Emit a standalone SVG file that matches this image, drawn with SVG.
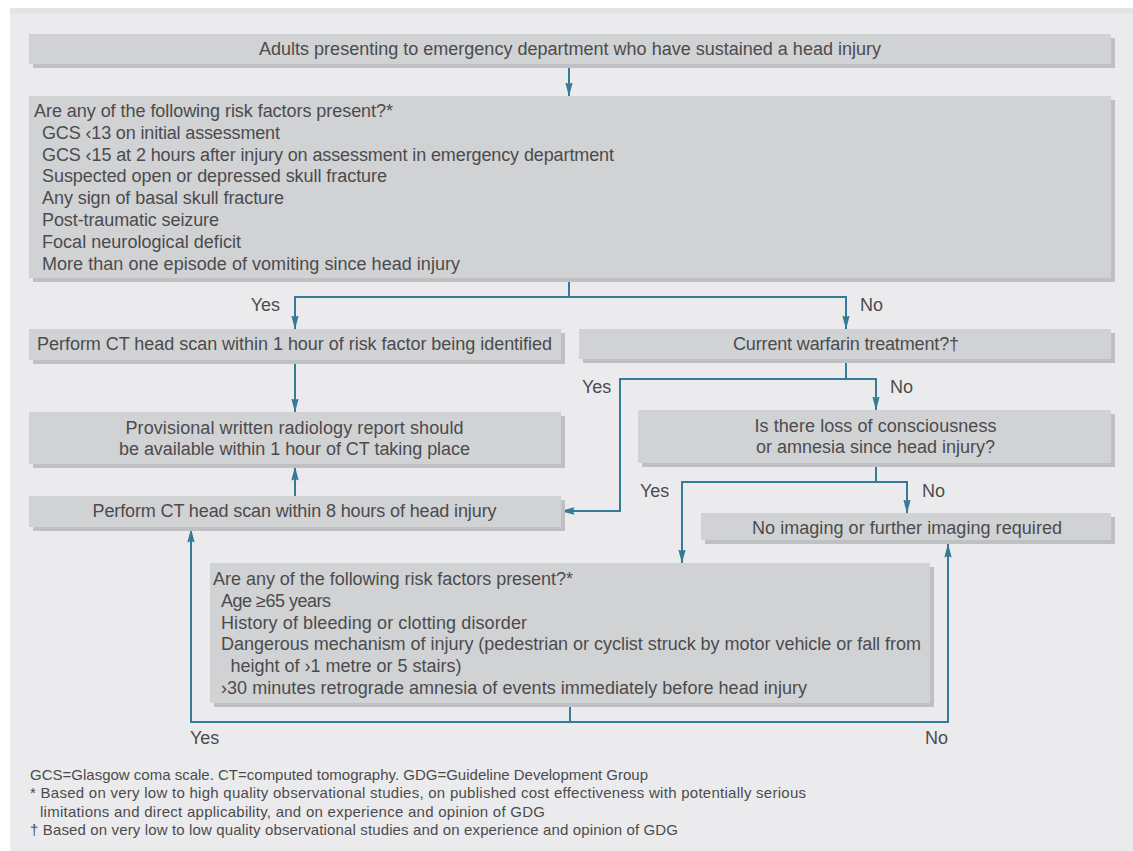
<svg xmlns="http://www.w3.org/2000/svg" width="1133" height="851" viewBox="0 0 1133 851">
<style>
.box{fill:#d1d2d4}
.sh{fill:#bfc0c2}
.t{font-family:"Liberation Sans",Arial,sans-serif;font-size:18px;fill:#4b4b4d}
.m{text-anchor:middle}
.e{text-anchor:end}
.f{font-family:"Liberation Sans",Arial,sans-serif;font-size:15px;fill:#4b4b4d}
.c{fill:none;stroke:#357a96;stroke-width:2}
</style>
<defs>
<marker id="ah" viewBox="0 0 14 8" refX="13.5" refY="4" markerWidth="14" markerHeight="8" markerUnits="userSpaceOnUse" orient="auto">
<path d="M0,0.3 L14,4 L0,7.7 L1.5,4 Z" fill="#357a96"/>
</marker>
</defs>
<rect x="0" y="0" width="1133" height="851" fill="#ffffff"/>
<rect x="10" y="8" width="1123" height="843" fill="#ebebed"/>
<rect x="10" y="8" width="1123" height="6" fill="#e4e4e6"/>

<g id="connectors">
<path class="c" d="M569,64 V96" marker-end="url(#ah)"/>
<path class="c" d="M569,278 V297"/>
<path class="c" d="M846,329 V297 H295 V329" marker-end="url(#ah)"/>
<path class="c" d="M846,297 V329" marker-end="url(#ah)"/>
<path class="c" d="M295,360 V412" marker-end="url(#ah)"/>
<path class="c" d="M295,496 V467" marker-end="url(#ah)"/>
<path class="c" d="M846,359 V379 H876 V410" marker-end="url(#ah)"/>
<path class="c" d="M846,379 H620 V511 H561" marker-end="url(#ah)"/>
<path class="c" d="M876,463 V482 H907 V513" marker-end="url(#ah)"/>
<path class="c" d="M876,482 H682 V563" marker-end="url(#ah)"/>
<path class="c" d="M570,703 V722 H191 V529" marker-end="url(#ah)"/>
<path class="c" d="M570,722 H948 V544" marker-end="url(#ah)"/>
<text class="t e" x="280" y="311">Yes</text>
<text class="t" x="860" y="311">No</text>
<text class="t" x="582" y="393">Yes</text>
<text class="t" x="890" y="393">No</text>
<text class="t" x="640" y="497">Yes</text>
<text class="t" x="922" y="497">No</text>
<text class="t" x="190" y="744">Yes</text>
<text class="t e" x="948" y="744">No</text>
</g>

<g id="n1">
<rect class="sh" x="33" y="38" width="1082" height="30"/>
<rect class="box" x="29" y="34" width="1082" height="30"/>
<text class="t m" x="570" y="55" textLength="622">Adults presenting to emergency department who have sustained a head injury</text>
</g>

<g id="n2">
<rect class="sh" x="33" y="100" width="1082" height="182"/>
<rect class="box" x="29" y="96" width="1082" height="182"/>
<text class="t" x="34" y="117" textLength="359">Are any of the following risk factors present?*</text>
<text class="t" x="42" y="139" textLength="238">GCS ‹13 on initial assessment</text>
<text class="t" x="42" y="160.6" textLength="572">GCS ‹15 at 2 hours after injury on assessment in emergency department</text>
<text class="t" x="42" y="182.4" textLength="345">Suspected open or depressed skull fracture</text>
<text class="t" x="42" y="204.2" textLength="242">Any sign of basal skull fracture</text>
<text class="t" x="42" y="226" textLength="177">Post-traumatic seizure</text>
<text class="t" x="42" y="247.8" textLength="199">Focal neurological deficit</text>
<text class="t" x="42" y="269.6" textLength="418">More than one episode of vomiting since head injury</text>
</g>

<g id="n3">
<rect class="sh" x="33" y="333" width="532" height="31"/>
<rect class="box" x="29" y="329" width="532" height="31"/>
<text class="t m" x="294.5" y="350" textLength="515">Perform CT head scan within 1 hour of risk factor being identified</text>
</g>

<g id="n4">
<rect class="sh" x="583" y="333" width="532" height="30"/>
<rect class="box" x="579" y="329" width="532" height="30"/>
<text class="t m" x="846" y="350" textLength="226">Current warfarin treatment?†</text>
</g>

<g id="n5">
<rect class="sh" x="33" y="416" width="532" height="52"/>
<rect class="box" x="29" y="412" width="532" height="52"/>
<text class="t m" x="294.5" y="433.5" textLength="338">Provisional written radiology report should</text>
<text class="t m" x="294.5" y="455" textLength="351">be available within 1 hour of CT taking place</text>
</g>

<g id="n6">
<rect class="sh" x="642" y="414" width="473" height="53"/>
<rect class="box" x="638" y="410" width="473" height="53"/>
<text class="t m" x="875.5" y="431.7" textLength="242">Is there loss of consciousness</text>
<text class="t m" x="875.5" y="453.3" textLength="239">or amnesia since head injury?</text>
</g>

<g id="n7">
<rect class="sh" x="33" y="500" width="532" height="31"/>
<rect class="box" x="29" y="496" width="532" height="31"/>
<text class="t m" x="294.5" y="517.3" textLength="404">Perform CT head scan within 8 hours of head injury</text>
</g>

<g id="n8">
<rect class="sh" x="705" y="517" width="410" height="27"/>
<rect class="box" x="701" y="513" width="410" height="27"/>
<text class="t m" x="907" y="534" textLength="310">No imaging or further imaging required</text>
</g>

<g id="n9">
<rect class="sh" x="214" y="567" width="720" height="140"/>
<rect class="box" x="210" y="563" width="720" height="140"/>
<text class="t" x="213" y="585" textLength="360">Are any of the following risk factors present?*</text>
<text class="t" x="221" y="606.8" textLength="110">Age ≥65 years</text>
<text class="t" x="221" y="628.6" textLength="306">History of bleeding or clotting disorder</text>
<text class="t" x="221" y="650.4" textLength="700">Dangerous mechanism of injury (pedestrian or cyclist struck by motor vehicle or fall from</text>
<text class="t" x="230.5" y="672.2" textLength="231">height of ›1 metre or 5 stairs)</text>
<text class="t" x="221" y="694" textLength="586">›30 minutes retrograde amnesia of events immediately before head injury</text>
</g>

<g id="footer">
<text class="f" x="30" y="780" textLength="618">GCS=Glasgow coma scale. CT=computed tomography. GDG=Guideline Development Group</text>
<text class="f" x="30" y="798.3" textLength="776">* Based on very low to high quality observational studies, on published cost effectiveness with potentially serious</text>
<text class="f" x="40" y="816.7" textLength="505">limitations and direct applicability, and on experience and opinion of GDG</text>
<text class="f" x="30" y="835" textLength="648">† Based on very low to low quality observational studies and on experience and opinion of GDG</text>
</g>
</svg>
